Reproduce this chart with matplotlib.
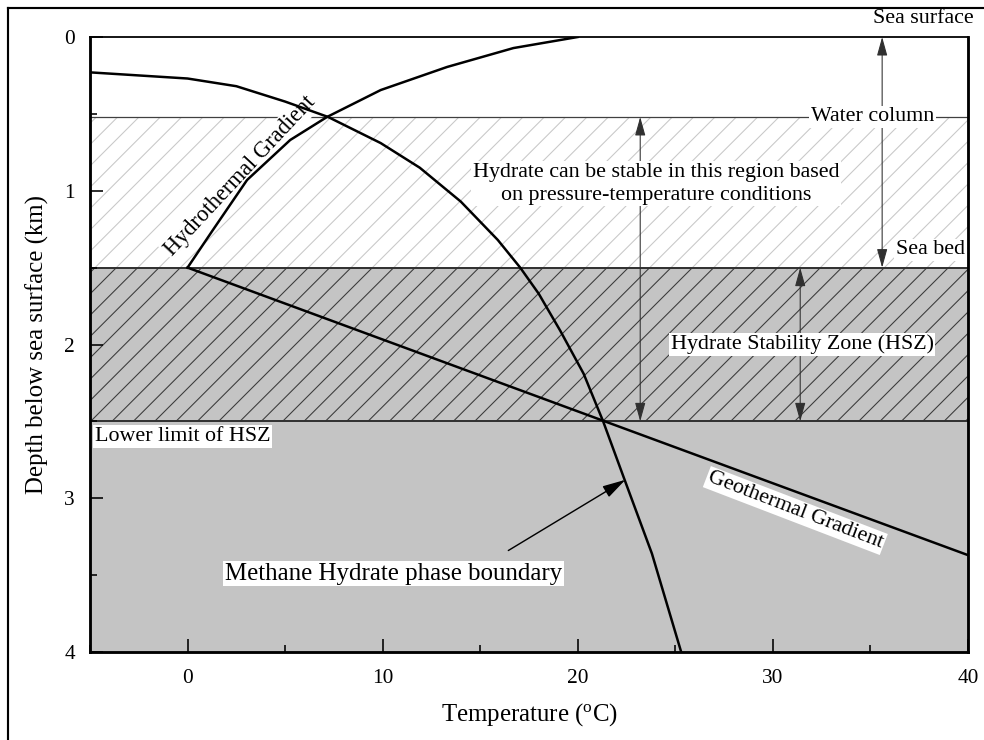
import matplotlib
matplotlib.use("Agg")
import matplotlib.pyplot as plt
from matplotlib.lines import Line2D

# Methane hydrate phase boundary (temperature degC, depth km)
phase_temp = [-5, 0, 2.5, 5, 7.2, 9.9, 11.9, 14.0, 15.9, 17.05, 18.0, 19.1,
              20.3, 21.3, 22.4, 23.8, 25.3]
phase_depth = [0.23, 0.27, 0.32, 0.42, 0.52, 0.69, 0.85, 1.07, 1.32, 1.50,
               1.67, 1.91, 2.19, 2.50, 2.88, 3.36, 4.0]

# Hydrothermal gradient (water column)
hydro_temp = [0, 1.3, 3.05, 5.26, 7.15, 9.9, 13.3, 16.7, 20.0]
hydro_depth = [1.5, 1.255, 0.93, 0.67, 0.52, 0.345, 0.195, 0.072, 0.0]

# Geothermal gradient (sediment)
geo_temp = [0, 40]
geo_depth = [1.5, 3.37]

# layer boundaries (km)
water_column_depth = 0.52
sea_bed_depth = 1.5
hsz_base_depth = 2.5
max_depth = 4.0

x_ticks = [0, 10, 20, 30, 40]
x_minor = [-5, 5, 15, 25, 35]
y_ticks = [0, 1, 2, 3, 4]
y_minor = [0.5, 1.5, 2.5, 3.5]

DPI = 128
plt.rcParams["font.family"] = ["Liberation Serif", "DejaVu Serif"]
plt.rcParams["mathtext.fontset"] = "custom"
plt.rcParams["mathtext.rm"] = "Liberation Serif"
plt.rcParams["hatch.linewidth"] = 0.6

GRAY = "#c4c4c4"
FS = 12.4

fig = plt.figure(figsize=(984 / DPI, 740 / DPI), dpi=DPI)
ax = fig.add_axes([90 / 984, 88 / 740, 878 / 984, 615 / 740])

# layers
ax.axhspan(water_column_depth, sea_bed_depth, facecolor="white",
           edgecolor="#c8c8c8", hatch="//", lw=0, zorder=0.5)
ax.axhspan(sea_bed_depth, hsz_base_depth, facecolor=GRAY,
           edgecolor="#3a3a3a", hatch="//", lw=0, zorder=0.5)
ax.axhspan(hsz_base_depth, max_depth, facecolor=GRAY, lw=0, zorder=0.5)

ax.axhline(water_column_depth, color="#404040", lw=0.7, zorder=1)
ax.axhline(sea_bed_depth, color="#303030", lw=1.1, zorder=1)
ax.axhline(hsz_base_depth, color="#303030", lw=1.1, zorder=1)

# curves
ax.plot(phase_temp, phase_depth, color="black", lw=1.4, zorder=3)
ax.plot(hydro_temp, hydro_depth, color="black", lw=1.4, zorder=3)
ax.plot(geo_temp, geo_depth, color="black", lw=1.4, zorder=3)

# double arrows
dbl = dict(arrowstyle="<|-|>,head_length=0.9,head_width=0.25",
           color="#303030", lw=0.6, shrinkA=0, shrinkB=0, mutation_scale=10)
ax.annotate("", xy=(35.6, 0), xytext=(35.6, sea_bed_depth),
            arrowprops=dbl, zorder=2, annotation_clip=False)
ax.annotate("", xy=(23.2, water_column_depth), xytext=(23.2, hsz_base_depth),
            arrowprops=dbl, zorder=2)
ax.annotate("", xy=(31.4, sea_bed_depth), xytext=(31.4, hsz_base_depth),
            arrowprops=dbl, zorder=2)

# labels
box = dict(facecolor="white", edgecolor="none", pad=1.0)
ax.text(37.7, -0.12, "Sea surface", fontsize=FS, ha="center", va="center",
        clip_on=False)
ax.text(35.1, water_column_depth, "Water column", fontsize=FS, ha="center",
        va="center", bbox=box, zorder=2.5)
ax.text(39.85, 1.385, "Sea bed", fontsize=FS, ha="right", va="center",
        bbox=box, zorder=2.5)
ax.text(24.0, 0.955,
        "Hydrate can be stable in this region based\non pressure-temperature conditions",
        fontsize=FS, ha="center", va="center", bbox=box, zorder=2.5,
        linespacing=1.25)
ax.text(31.5, 2.0, "Hydrate Stability Zone (HSZ)", fontsize=FS, ha="center",
        va="center", bbox=box, zorder=2.5)
ax.text(-4.75, 2.6, "Lower limit of HSZ", fontsize=FS, ha="left",
        va="center", bbox=box, zorder=2.5)
ax.text(2.68, 0.905, "Hydrothermal Gradient", fontsize=12.7, ha="center",
        va="center", rotation=47, rotation_mode="anchor", bbox=box,
        zorder=2.5)
ax.text(31.15, 3.08, "Geothermal Gradient", fontsize=FS, ha="center",
        va="center", rotation=-21, rotation_mode="anchor", bbox=box,
        zorder=2.5)
ax.text(10.55, 3.49, "Methane Hydrate phase boundary", fontsize=14,
        ha="center", va="center", bbox=box, zorder=2.5)
ax.annotate("", xy=(22.44, 2.88), xytext=(16.44, 3.34),
            arrowprops=dict(arrowstyle="-|>,head_length=1.1,head_width=0.3",
                            color="black", lw=0.8, shrinkA=0, shrinkB=0,
                            mutation_scale=10), zorder=3)

# axes
ax.set_xlim(-5, 40)
ax.set_ylim(max_depth, 0)
ax.set_xticks(x_ticks)
ax.set_xticks(x_minor, minor=True)
ax.set_yticks(y_ticks)
ax.set_yticks(y_minor, minor=True)
ax.tick_params(which="both", direction="in", top=False, right=False,
               width=0.9, labelsize=12)
ax.tick_params(which="major", length=7.3)
ax.tick_params(which="minor", length=4)
ax.tick_params(axis="x", pad=9.5)
ax.tick_params(axis="y", pad=8.5)
for side in ["left", "bottom", "right"]:
    ax.spines[side].set_linewidth(1.6)
ax.spines["top"].set_linewidth(1.0)

ax.set_xlabel(r"Temperature ($\mathregular{^o}$C)", fontsize=14)
ax.set_ylabel("Depth below sea surface (km)", fontsize=14)
ax.xaxis.set_label_coords(0.5, -(715 - 652) / 615)
ax.xaxis.label.set_va("center")
ax.yaxis.set_label_coords(-(90 - 37) / 878, 0.5)
ax.yaxis.label.set_va("center")

# outer frame of the figure
fig.add_artist(Line2D([8 / 984, 1.0], [1 - 8 / 740] * 2,
                      transform=fig.transFigure, color="black", lw=1.2))
fig.add_artist(Line2D([8 / 984] * 2, [0, 1 - 8 / 740],
                      transform=fig.transFigure, color="black", lw=1.2))

fig.savefig("out.png", dpi=DPI)
